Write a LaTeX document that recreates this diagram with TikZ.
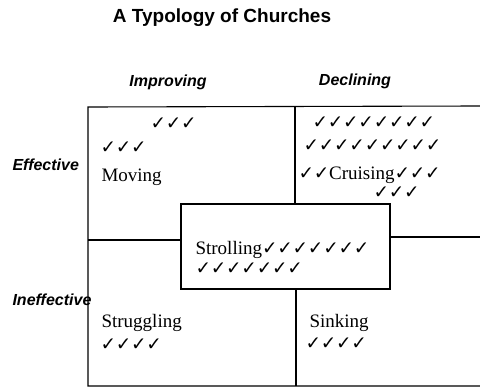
\documentclass[tikz,border=0pt]{standalone}
\usepackage{fontspec}
\setmainfont{Liberation Serif}
\newfontfamily\headfont{Liberation Sans}
\newfontfamily\tickfont{DejaVu Sans}
\newcommand\tk{\makebox[15.3pt][l]{\tickfont\bfseries\fontsize{18.5}{18}\selectfont ✓}}
\newcommand\ticks[1]{\foreach \i in {1,...,#1}{\tk}}
\tikzset{
  cell/.style={anchor=base west, inner sep=0pt, font=\fontsize{19}{19}\selectfont},
  axis/.style={inner sep=0pt, font=\headfont\bfseries\itshape\fontsize{16}{16}\selectfont},
}
\begin{document}
\begin{tikzpicture}[x=1pt,y=-1pt,line width=1.1pt]
\useasboundingbox (0,0) rectangle (480,388);
\node[inner sep=0pt,font=\headfont\bfseries\fontsize{19}{19}\selectfont] (title) at (222,18) {A Typology of Churches};
\node[axis] (improving) at (168,82) {Improving};
\node[axis] (declining) at (355,81) {Declining};
\node[axis,anchor=west] (effective) at (12,165) {Effective};
\node[axis,anchor=west] (ineffective) at (12,300) {Ineffective};
% frame
\coordinate (tl) at (88,107);
\coordinate (tr) at (480,106);
\coordinate (bl) at (88,386);
\coordinate (br) at (480,386);
\draw (tr) -- (tl) -- (bl) -- (br);
\node[draw,fill=white,minimum width=209pt,minimum height=85pt,inner sep=0pt] (stroll) at (285.5,246.5) {};
\draw (88,240) -- (stroll.west |- 0,240);
\draw (stroll.east |- 0,237) -- (480,237);
\draw (295,107) -- (stroll.north -| 295,0);
\draw (stroll.south -| 296,0) -- (296,386);
% cells
\node[cell] (mov1) at (150,129) {\ticks{3}};
\node[cell] (mov2) at (100,153) {\ticks{3}};
\node[cell] (moving) at (101,181) {Moving};
\node[cell] (cru1) at (312,128) {\ticks{8}};
\node[cell] (cru2) at (303,151) {\ticks{9}};
\node[cell] (cruising) at (298,179) {\ticks{2}Cruising\ticks{3}};
\node[cell] (cru4) at (373,198) {\ticks{3}};
\node[cell] (strolling) at (195,254) {Strolling\ticks{7}};
\node[cell] (str2) at (195,274) {\ticks{7}};
\node[cell] (struggling) at (101,327) {Struggling};
\node[cell] (stg2) at (100,350) {\ticks{4}};
\node[cell] (sinking) at (309,327) {Sinking};
\node[cell] (sin2) at (305,349) {\ticks{4}};
\end{tikzpicture}
\end{document}
